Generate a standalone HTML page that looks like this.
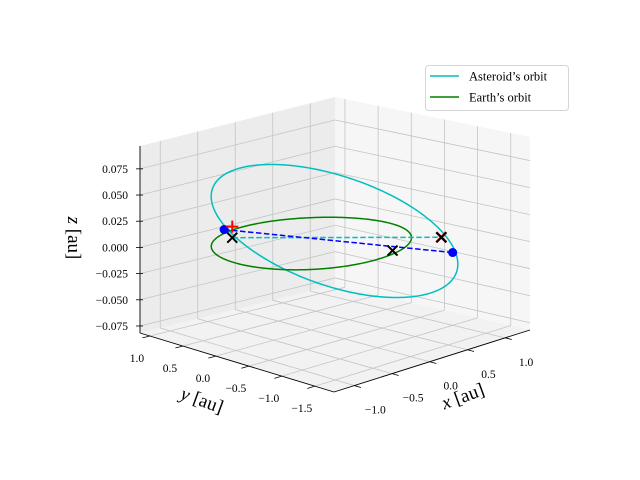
<!DOCTYPE html>
<html><head><meta charset="utf-8"><style>
html,body{margin:0;padding:0;background:#fff;}
svg{display:block;font-family:"Liberation Serif",serif;}
</style></head><body>
<svg id="chart" width="640" height="480" viewBox="0 0 640 480" xmlns="http://www.w3.org/2000/svg">
<g id="panes"></g>
<g id="grid"></g>
<g id="axes"></g>
<g id="series"></g>
<g id="legend">
  <rect x="425.5" y="65.5" width="143" height="45" rx="3" fill="#fff" fill-opacity="0.8" stroke="#d6d6d6"/>
  <g>
    <line x1="430" y1="76" x2="459" y2="76" stroke="#00bfbf" stroke-width="1.5"/>
    <text x="469" y="80.5" font-size="12.5">Asteroid’s orbit</text>
  </g>
  <g>
    <line x1="430" y1="97" x2="459" y2="97" stroke="#008000" stroke-width="1.5"/>
    <text x="469" y="101.5" font-size="12.5">Earth’s orbit</text>
  </g>
</g>
</svg>
<script>
// axis limits and ticks
const xLim=[-1.27,1.33], yLim=[-1.79,1.15], zLim=[-0.0817,0.0968];
const xTicks=[-1.0,-0.5,0.0,0.5,1.0];
const yTicks=[-1.5,-1.0,-0.5,0.0,0.5,1.0];
const zTicks=[-0.075,-0.050,-0.025,0.000,0.025,0.050,0.075];
const xTickLabels=["−1.0","−0.5","0.0","0.5","1.0"];
const yTickLabels=["−1.5","−1.0","−0.5","0.0","0.5","1.0"];
const zTickLabels=["−0.075","−0.050","−0.025","0.000","0.025","0.050","0.075"];
// orbit data
const earthRadius=[1.0];
const asteroidCenter=[0.450,0.162,0.0];
const asteroidAxisA=[0.917,-0.822,-0.037];
const asteroidAxisB=[0.144,0.163,-0.059];
// markers
const nodePoints=[[-0.387,0.756,0.0],[0.937,-0.899,0.0]];
const bluePoints=[[-0.29,0.99,0.0022],[1.288,-0.672,-0.0245]];
const blackCrosses=[[-0.387,0.756,0.0],[0.937,-0.899,0.0],[0.309,-0.876,0.0]];
const redCrosses=[[0.937,-0.899,0.0]];
const redPluses=[[-0.387,0.756,0.0105]];

// projection (screen corners of the box)
const F=[334,392],R=[530,330],L=[140,333],B=[335,285];
const HF=197,HR=193,HL=187,HB=188;
function P(x,y,z){
  const u=(x-xLim[0])/(xLim[1]-xLim[0]), v=(y-yLim[0])/(yLim[1]-yLim[0]), w=(z-zLim[0])/(zLim[1]-zLim[0]);
  const a=(1-u)*(1-v),b=u*(1-v),c=(1-u)*v,d=u*v;
  const sx=F[0]*a+R[0]*b+L[0]*c+B[0]*d;
  const sy=F[1]*a+R[1]*b+L[1]*c+B[1]*d;
  const h=HF*a+HR*b+HL*c+HB*d;
  return [sx,sy-w*h];
}
const NS="http://www.w3.org/2000/svg";
function mk(tag,attrs,parent){const e=document.createElementNS(NS,tag);for(const k in attrs)e.setAttribute(k,attrs[k]);parent.appendChild(e);return e;}
function pts(arr){return arr.map(p=>p[0].toFixed(2)+","+p[1].toFixed(2)).join(" ");}
const panes=document.getElementById('panes'),grid=document.getElementById('grid'),axes=document.getElementById('axes'),series=document.getElementById('series');
const [x0,x1]=xLim,[y0,y1]=yLim,[z0,z1]=zLim;
let e;
e=mk('polygon',{points:pts([P(x0,y1,z0),P(x1,y1,z0),P(x1,y1,z1),P(x0,y1,z1)]),fill:'#ececec'},panes);


e=mk('polygon',{points:pts([P(x1,y0,z0),P(x1,y1,z0),P(x1,y1,z1),P(x1,y0,z1)]),fill:'#f6f6f6'},panes);


e=mk('polygon',{points:pts([P(x0,y0,z0),P(x1,y0,z0),P(x1,y1,z0),P(x0,y1,z0)]),fill:'#f2f2f2'},panes);


const gs={stroke:'#c4c4c4','stroke-width':0.8,fill:'none'};
function gl(a,b,name){const l=mk('polyline',Object.assign({points:pts([a,b])},gs),grid);}
xTicks.forEach(t=>{gl(P(t,y0,z0),P(t,y1,z0),'grid-x-floor');gl(P(t,y1,z0),P(t,y1,z1),'grid-x-wall');});
yTicks.forEach(t=>{gl(P(x0,t,z0),P(x1,t,z0),'grid-y-floor');gl(P(x1,t,z0),P(x1,t,z1),'grid-y-wall');});
zTicks.forEach(t=>{gl(P(x0,y1,t),P(x1,y1,t),'grid-z-left');gl(P(x1,y1,t),P(x1,y0,t),'grid-z-right');});
function al(a,b,name){const l=mk('polyline',{points:pts([a,b]),stroke:'#000','stroke-width':0.9,fill:'none'},axes);}
al(P(x0,y0,z0),P(x1,y0,z0),'x-axis-line');
al(P(x0,y0,z0),P(x0,y1,z0),'y-axis-line');
al(P(x0,y1,z0),P(x0,y1,z1),'z-axis-line');
function txt(x,y,s,anchor,name,size){const t=mk('text',{x:x,y:y,'font-size':size||11.5,'text-anchor':anchor},axes);t.textContent=s;return t;}
xTicks.forEach((t,i)=>{const p=P(t,y0,z0);const q=P(t,y0-0.1,z0);
  const l=mk('line',{x1:p[0],y1:p[1],x2:q[0],y2:q[1],stroke:'#000','stroke-width':0.8},axes);
  txt(p[0]+21,p[1]+28,xTickLabels[i],'middle','x-tick-label');});
yTicks.forEach((t,i)=>{const p=P(x0,t,z0);const q=P(x0-0.1,t,z0);
  const l=mk('line',{x1:p[0],y1:p[1],x2:q[0],y2:q[1],stroke:'#000','stroke-width':0.8},axes);
  txt(p[0]-13,p[1]+26,yTickLabels[i],'middle','y-tick-label');});
zTicks.forEach((t,i)=>{const p=P(x0,y1,t);
  const l=mk('line',{x1:p[0]-4,y1:p[1],x2:p[0]+3,y2:p[1],stroke:'#000','stroke-width':0.8},axes);
  txt(p[0]-12,p[1]+4,zTickLabels[i],'end','z-tick-label');});
let t1=txt(0,0,'','middle','x-axis-title',19);t1.setAttribute('transform','translate(465,402) rotate(-20)');t1.innerHTML='<tspan font-style="italic">x</tspan> [au]';
let t2=txt(0,0,'','middle','y-axis-title',19);t2.setAttribute('transform','translate(200,406) rotate(20)');t2.innerHTML='<tspan font-style="italic">y</tspan> [au]';
let t3=txt(0,0,'','middle','z-axis-title',19);t3.setAttribute('transform','translate(68,238) rotate(90)');t3.innerHTML='<tspan font-style="italic">z</tspan> [au]';
const N=240;
const earthPts=[],astPts=[];
for(let k=0;k<=N;k++){const a=2*Math.PI*k/N,c=Math.cos(a),s=Math.sin(a);
  earthPts.push(P(earthRadius[0]*c,earthRadius[0]*s,0));
  astPts.push(P(asteroidCenter[0]+asteroidAxisA[0]*c+asteroidAxisB[0]*s,asteroidCenter[1]+asteroidAxisA[1]*c+asteroidAxisB[1]*s,asteroidCenter[2]+asteroidAxisA[2]*c+asteroidAxisB[2]*s));}
e=mk('polyline',{points:pts(astPts),stroke:'#00bfbf','stroke-width':1.5,fill:'none'},series);


e=mk('polyline',{points:pts(earthPts),stroke:'#008000','stroke-width':1.5,fill:'none'},series);


e=mk('polyline',{points:pts(nodePoints.map(p=>P(...p))),stroke:'#00bfbf','stroke-width':1.5,'stroke-dasharray':'5.5,2.5',fill:'none'},series);


e=mk('polyline',{points:pts(bluePoints.map(p=>P(...p))),stroke:'#0000ff','stroke-width':1.5,'stroke-dasharray':'5.5,2.5',fill:'none'},series);


bluePoints.forEach(p=>{const q=P(...p);const c=mk('circle',{cx:q[0],cy:q[1],r:4.5,fill:'#0000ff'},series);
  
  });
function cross(q,color,name,w){const g=mk('path',{d:`M${q[0]-5},${q[1]-5}L${q[0]+5},${q[1]+5}M${q[0]-5},${q[1]+5}L${q[0]+5},${q[1]-5}`,stroke:color,'stroke-width':w,fill:'none'},series);
  
  }
redCrosses.forEach(p=>cross(P(...p),'#ff0000','red-cross',2.5));
blackCrosses.forEach(p=>cross(P(...p),'#000','black-cross',2));
redPluses.forEach(p=>{const q=P(...p);const g=mk('path',{d:`M${q[0]-6},${q[1]}L${q[0]+6},${q[1]}M${q[0]},${q[1]-6}L${q[0]},${q[1]+6}`,stroke:'#ff0000','stroke-width':2,fill:'none'},series);
  
  });
</script>
</body></html>
